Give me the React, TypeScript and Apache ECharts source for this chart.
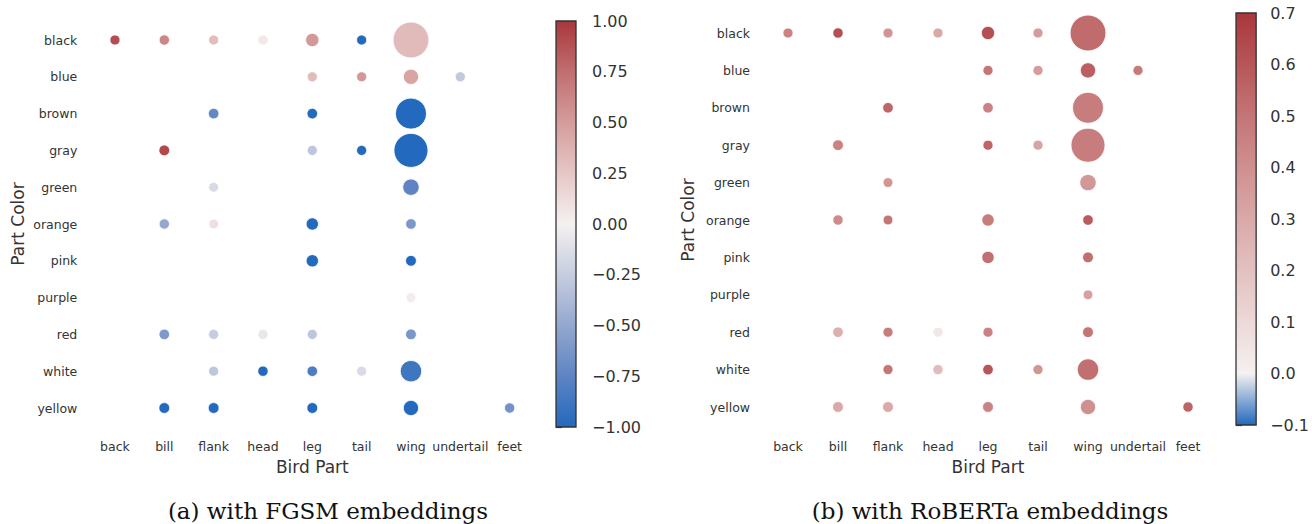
import React, { useEffect, useRef } from "react";
import * as echarts from "echarts";

const parts = ["back", "bill", "flank", "head", "leg", "tail", "wing", "undertail", "feet"];
const partColors = ["black", "blue", "brown", "gray", "green", "orange", "pink", "purple", "red", "white", "yellow"];

// [bird part, part color, count]
const pairs: [string, string, number][] = [
  ["back", "black", 20], ["bill", "black", 21], ["flank", "black", 20], ["head", "black", 20], ["leg", "black", 35], ["tail", "black", 20], ["wing", "black", 253],
  ["leg", "blue", 20], ["tail", "blue", 20], ["wing", "blue", 46], ["undertail", "blue", 20],
  ["flank", "brown", 22], ["leg", "brown", 22], ["wing", "brown", 190],
  ["bill", "gray", 23], ["leg", "gray", 20], ["tail", "gray", 20], ["wing", "gray", 228],
  ["flank", "green", 19], ["wing", "green", 53],
  ["bill", "orange", 21], ["flank", "orange", 19], ["leg", "orange", 30], ["wing", "orange", 22],
  ["leg", "pink", 30], ["wing", "pink", 23],
  ["wing", "purple", 19],
  ["bill", "red", 22], ["flank", "red", 20], ["head", "red", 20], ["leg", "red", 20], ["wing", "red", 23],
  ["flank", "white", 20], ["head", "white", 21], ["leg", "white", 22], ["tail", "white", 20], ["wing", "white", 91],
  ["bill", "yellow", 23], ["flank", "yellow", 23], ["leg", "yellow", 23], ["wing", "yellow", 46], ["feet", "yellow", 21],
];

// correlation with FGSM embeddings (same order as pairs)
const fgsmValues = [
  0.9, 0.62, 0.3, 0.05, 0.52, -1.0, 0.32,
  0.32, 0.52, 0.45, -0.28,
  -0.72, -1.0, -1.0,
  0.92, -0.3, -1.0, -1.0,
  -0.15, -0.75,
  -0.5, 0.1, -1.0, -0.62,
  -1.0, -1.0,
  0.03,
  -0.6, -0.25, -0.07, -0.3, -0.62,
  -0.3, -1.0, -0.82, -0.15, -0.88,
  -1.0, -1.0, -1.0, -1.0, -0.65,
];

// correlation with RoBERTa embeddings (same order as pairs)
const robertaValues = [
  0.45, 0.62, 0.38, 0.3, 0.62, 0.35, 0.53,
  0.5, 0.35, 0.57, 0.48,
  0.55, 0.45, 0.47,
  0.45, 0.55, 0.32, 0.47,
  0.38, 0.37,
  0.42, 0.5, 0.47, 0.58,
  0.52, 0.52,
  0.33,
  0.27, 0.47, 0.04, 0.45, 0.5,
  0.5, 0.22, 0.6, 0.38, 0.52,
  0.3, 0.3, 0.45, 0.4, 0.55,
];

const fgsmRange = [-1, 1];
const fgsmStep = 0.25;
const robertaRange = [-0.1, 0.7];
const robertaStep = 0.1;

const captions = ["(a) with FGSM embeddings", "(b) with RoBERTa embeddings"];

// vlag-like diverging palette (blue -> near white -> red)
const vlag = ["#2369bd", "#5e84c3", "#93a8cf", "#c6cde0", "#f4f1f0", "#e6c7c6", "#d49d9c", "#c16e70", "#a9373b"];

function hexToRgb(h: string) {
  const n = parseInt(h.slice(1), 16);
  return [(n >> 16) & 255, (n >> 8) & 255, n & 255];
}
function sampleVlag(t: number) {
  const s = Math.max(0, Math.min(1, t)) * (vlag.length - 1);
  const i = Math.min(vlag.length - 2, Math.floor(s));
  const f = s - i;
  const a = hexToRgb(vlag[i]);
  const b = hexToRgb(vlag[i + 1]);
  const c = a.map((v, k) => Math.round(v + (b[k] - v) * f));
  return `rgb(${c[0]},${c[1]},${c[2]})`;
}
// two-slope normalisation centred on 0
function robertaColors() {
  const out: string[] = [];
  const n = Math.round((robertaRange[1] - robertaRange[0]) / robertaStep);
  for (let k = 0; k <= n; k++) {
    const v = robertaRange[0] + k * robertaStep;
    const t = v < 0 ? 0.5 - 0.5 * (v / robertaRange[0]) : 0.5 + 0.5 * (v / robertaRange[1]);
    out.push(sampleVlag(t));
  }
  return out;
}

const fmt = (d: number) => (v: number) => {
  if (Math.abs(v) < 1e-9) return (0).toFixed(d);
  return (v < 0 ? "\u2212" : "") + Math.abs(v).toFixed(d);
};

const labelColor = "#333";

export default function App() {
  const ref = useRef<HTMLDivElement>(null);
  useEffect(() => {
    if (!ref.current) return;
    const chart = echarts.init(ref.current, undefined, { renderer: "svg" });
    const rColors = robertaColors();

    const scatterData = (vals: number[]) => pairs.map((p, i) => [p[0], p[1], p[2], vals[i]]);
    const gradient = (cols: string[]) =>
      new echarts.graphic.LinearGradient(
        0, 0, 0, 1,
        cols.slice().reverse().map((c, i) => ({ offset: i / (cols.length - 1), color: c }))
      );
    const colorbar = (xi: number, range: number[], cols: string[]) => ({
      type: "custom",
      xAxisIndex: xi,
      yAxisIndex: xi,
      silent: true,
      data: [[0, range[0], 1, range[1]]],
      renderItem: (_p: any, api: any) => {
        const a = api.coord([api.value(0), api.value(3)]);
        const b = api.coord([api.value(2), api.value(1)]);
        return {
          type: "rect",
          shape: { x: a[0], y: a[1], width: b[0] - a[0], height: b[1] - a[1] },
          style: { fill: gradient(cols), stroke: "#333", lineWidth: 1.3 },
        };
      },
    });

    const catX = (gi: number, gap: number) => ({
      type: "category",
      gridIndex: gi,
      data: parts,
      axisLine: { show: false },
      axisTick: { show: false },
      splitLine: { show: false },
      axisLabel: { color: labelColor, fontSize: 12.5, margin: 14, interval: 0 },
      name: "Bird Part",
      nameLocation: "middle",
      nameGap: gap,
      nameTextStyle: { color: labelColor, fontSize: 17 },
    });
    const catY = (gi: number, gap: number) => ({
      type: "category",
      gridIndex: gi,
      data: partColors,
      inverse: true,
      axisLine: { show: false },
      axisTick: { show: false },
      splitLine: { show: false },
      axisLabel: { color: labelColor, fontSize: 12.5, margin: 13, interval: 0 },
      name: "Part Color",
      nameLocation: "middle",
      nameGap: gap,
      nameTextStyle: { color: labelColor, fontSize: 17 },
    });
    const cbX = (gi: number) => ({ type: "value", gridIndex: gi, min: 0, max: 1, show: false });
    const cbY = (gi: number, range: number[], step: number, dec: number, margin: number) => ({
      type: "value",
      gridIndex: gi,
      min: range[0],
      max: range[1],
      interval: step,
      position: "right",
      axisLine: { show: false },
      axisTick: { show: true, length: 6, lineStyle: { color: "#333", width: 1.2 } },
      splitLine: { show: false },
      axisLabel: { color: labelColor, fontSize: 16, margin, formatter: fmt(dec) },
    });

    chart.setOption({
      animation: false,
      textStyle: { fontFamily: "DejaVu Sans" },
      grid: [
        { left: 90.3, top: 21.6, width: 444, height: 404.8 },
        { left: 556, top: 21, width: 20, height: 406 },
        { left: 763, top: 14.3, width: 450, height: 411.4 },
        { left: 1236, top: 13, width: 21, height: 412 },
      ],
      xAxis: [catX(0, 31), cbX(1), catX(2, 33), cbX(3)],
      yAxis: [
        catY(0, 64),
        cbY(1, fgsmRange, fgsmStep, 2, 16),
        catY(2, 67),
        cbY(3, robertaRange, robertaStep, 1, 14),
      ],
      visualMap: [
        { type: "continuous", show: false, seriesIndex: 0, dimension: 3, min: fgsmRange[0], max: fgsmRange[1], inRange: { color: vlag } },
        { type: "continuous", show: false, seriesIndex: 2, dimension: 3, min: robertaRange[0], max: robertaRange[1], inRange: { color: rColors } },
      ],
      series: [
        {
          type: "scatter",
          xAxisIndex: 0,
          yAxisIndex: 0,
          data: scatterData(fgsmValues),
          symbolSize: (d: number[]) => 2.25 * Math.sqrt(d[2]),
          itemStyle: { borderColor: "#fff", borderWidth: 0.8, opacity: 1 },
        },
        colorbar(1, fgsmRange, vlag),
        {
          type: "scatter",
          xAxisIndex: 2,
          yAxisIndex: 2,
          data: scatterData(robertaValues),
          symbolSize: (d: number[]) => 2.25 * Math.sqrt(d[2]),
          itemStyle: { borderColor: "#fff", borderWidth: 0.8, opacity: 1 },
        },
        colorbar(3, robertaRange, rColors),
      ],
      graphic: [
        {
          type: "text",
          x: 328,
          y: 511,
          style: { text: captions[0], fontFamily: "DejaVu Serif", fontSize: 23, fill: "#111", align: "center", verticalAlign: "middle" },
        },
        {
          type: "text",
          x: 990,
          y: 511,
          style: { text: captions[1], fontFamily: "DejaVu Serif", fontSize: 23, fill: "#111", align: "center", verticalAlign: "middle" },
        },
      ],
    });
    return () => chart.dispose();
  }, []);
  return (
    <div
      ref={ref}
      style={{ position: "absolute", left: 0, top: 0, width: 1312, height: 524, background: "#fff" }}
    />
  );
}
